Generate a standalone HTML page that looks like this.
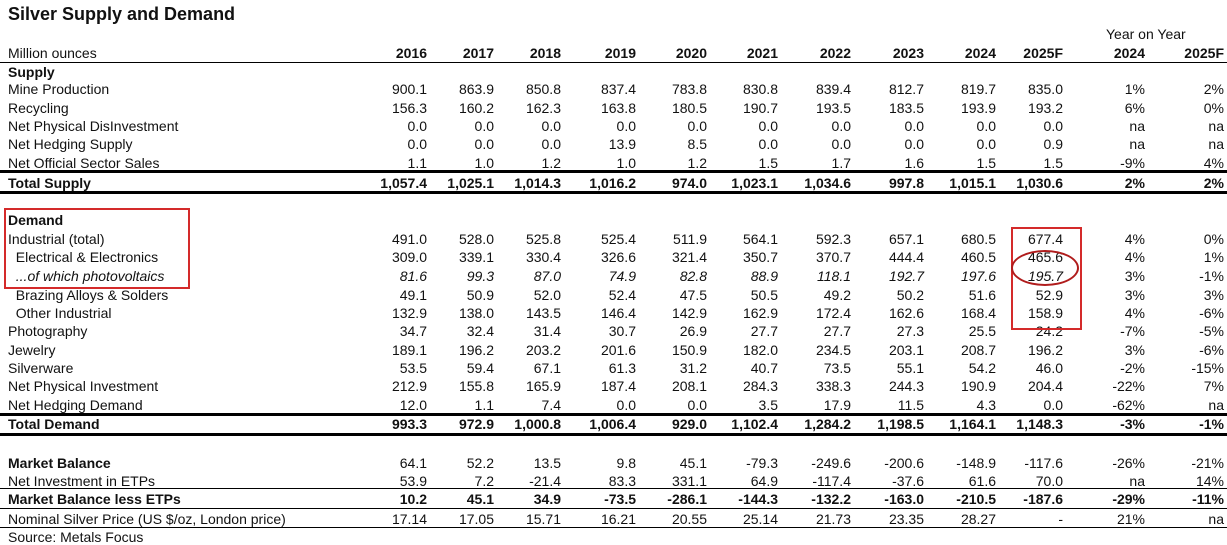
<!DOCTYPE html>
<html><head><meta charset="utf-8"><style>
body{margin:0;background:#fff;}
#c{position:relative;width:1227px;height:545px;overflow:hidden;font-family:"Liberation Sans",Arial,sans-serif;font-size:14px;color:#111;}
.r{position:absolute;left:0;width:1227px;height:18px;line-height:18px;}
.r span{position:absolute;white-space:nowrap;}
.l{left:8px;}
.b{font-weight:bold;}
.i{font-style:italic;}
.h{position:absolute;left:0;width:1227px;background:#000;}
</style></head><body><div id="c">
<div style="position:absolute;left:8px;top:4px;font-size:18px;font-weight:bold;">Silver Supply and Demand</div>
<div style="position:absolute;left:1106px;top:26px;">Year on Year</div>
<div id="rows"></div>
<div class="h" style="top:62px;height:1px"></div>
<div class="h" style="top:170px;height:3px"></div>
<div class="h" style="top:191px;height:3px"></div>
<div class="h" style="top:413px;height:3px"></div>
<div class="h" style="top:433px;height:3px"></div>
<div class="h" style="top:488px;height:1px"></div>
<div class="h" style="top:508px;height:1px"></div>
<div class="h" style="top:527px;height:1px"></div>
<div style="position:absolute;left:4px;top:208px;width:182px;height:77px;border:2px solid #d42a2a;"></div>
<div style="position:absolute;left:1011px;top:227px;width:67px;height:99px;border:2px solid #d42a2a;"></div>
<div style="position:absolute;left:1011px;top:250px;width:64px;height:32px;border:2px solid #b01c1c;border-radius:50%;"></div>
</div>
<script>
var R=[427,494,561,636,707,778,851,924,996,1063,1145,1224];
var rows=[
[53,"Million ounces","b0",["2016","2017","2018","2019","2020","2021","2022","2023","2024","2025F","2024","2025F"],1],
[72,"Supply","b",null],
[89,"Mine Production","",["900.1","863.9","850.8","837.4","783.8","830.8","839.4","812.7","819.7","835.0","1%","2%"]],
[108,"Recycling","",["156.3","160.2","162.3","163.8","180.5","190.7","193.5","183.5","193.9","193.2","6%","0%"]],
[126,"Net Physical DisInvestment","",["0.0","0.0","0.0","0.0","0.0","0.0","0.0","0.0","0.0","0.0","na","na"]],
[144,"Net Hedging Supply","",["0.0","0.0","0.0","13.9","8.5","0.0","0.0","0.0","0.0","0.9","na","na"]],
[163,"Net Official Sector Sales","",["1.1","1.0","1.2","1.0","1.2","1.5","1.7","1.6","1.5","1.5","-9%","4%"]],
[183,"Total Supply","b",["1,057.4","1,025.1","1,014.3","1,016.2","974.0","1,023.1","1,034.6","997.8","1,015.1","1,030.6","2%","2%"]],
[220,"Demand","b",null],
[239,"Industrial (total)","",["491.0","528.0","525.8","525.4","511.9","564.1","592.3","657.1","680.5","677.4","4%","0%"]],
[257,"&nbsp;&nbsp;Electrical &amp; Electronics","",["309.0","339.1","330.4","326.6","321.4","350.7","370.7","444.4","460.5","465.6","4%","1%"]],
[276,"&nbsp;&nbsp;...of which photovoltaics","i",["81.6","99.3","87.0","74.9","82.8","88.9","118.1","192.7","197.6","195.7","3%","-1%"]],
[295,"&nbsp;&nbsp;Brazing Alloys &amp; Solders","",["49.1","50.9","52.0","52.4","47.5","50.5","49.2","50.2","51.6","52.9","3%","3%"]],
[313,"&nbsp;&nbsp;Other Industrial","",["132.9","138.0","143.5","146.4","142.9","162.9","172.4","162.6","168.4","158.9","4%","-6%"]],
[331,"Photography","",["34.7","32.4","31.4","30.7","26.9","27.7","27.7","27.3","25.5","24.2","-7%","-5%"]],
[350,"Jewelry","",["189.1","196.2","203.2","201.6","150.9","182.0","234.5","203.1","208.7","196.2","3%","-6%"]],
[368,"Silverware","",["53.5","59.4","67.1","61.3","31.2","40.7","73.5","55.1","54.2","46.0","-2%","-15%"]],
[386,"Net Physical Investment","",["212.9","155.8","165.9","187.4","208.1","284.3","338.3","244.3","190.9","204.4","-22%","7%"]],
[405,"Net Hedging Demand","",["12.0","1.1","7.4","0.0","0.0","3.5","17.9","11.5","4.3","0.0","-62%","na"]],
[424,"Total Demand","b",["993.3","972.9","1,000.8","1,006.4","929.0","1,102.4","1,284.2","1,198.5","1,164.1","1,148.3","-3%","-1%"]],
[463,"Market Balance","b0",["64.1","52.2","13.5","9.8","45.1","-79.3","-249.6","-200.6","-148.9","-117.6","-26%","-21%"]],
[481,"Net Investment in ETPs","",["53.9","7.2","-21.4","83.3","331.1","64.9","-117.4","-37.6","61.6","70.0","na","14%"]],
[499,"Market Balance less ETPs","b",["10.2","45.1","34.9","-73.5","-286.1","-144.3","-132.2","-163.0","-210.5","-187.6","-29%","-11%"]],
[519,"Nominal Silver Price (US $/oz, London price)","",["17.14","17.05","15.71","16.21","20.55","25.14","21.73","23.35","28.27","-","21%","na"]],
[537,"Source: Metals Focus","",null]
];
var h="";
rows.forEach(function(r){
 var lc=r[2]=="b"||r[2]=="b0"?"b":(r[2]=="i"?"i":"");
 if(r[4])lc="";
 var vc=r[2]=="b"||r[4]?"b":(r[2]=="i"?"i":"");
 h+='<div class="r" style="top:'+(r[0]-9)+'px"><span class="l '+lc+'">'+r[1]+'</span>';
 if(r[3])r[3].forEach(function(v,k){
  var cls=vc;if(r[2]=="i"&&k>9)cls="";
  h+='<span class="'+cls+'" style="right:'+(1227-R[k])+'px">'+v+'</span>';});
 h+='</div>';});
document.getElementById("rows").innerHTML=h;
</script>
</body></html>
